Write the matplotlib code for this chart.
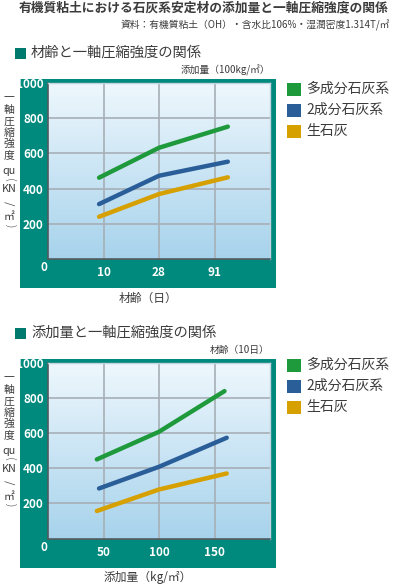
import numpy as np
import matplotlib.pyplot as plt
from matplotlib.patches import Rectangle
from matplotlib.colors import LinearSegmentedColormap

plt.rcParams['font.family'] = ['Noto Sans CJK JP', 'DejaVu Sans']

W, H = 394, 586

# 材齢と一軸圧縮強度の関係 (添加量 100kg/㎡)
age_labels = ['10', '28', '91']
age_ticks = [1, 2, 3]
age_line_x = [0.92, 2.0, 3.24]
age_multi = [462, 632, 752]
age_two = [312, 473, 553]
age_lime = [240, 369, 464]

# 添加量と一軸圧縮強度の関係 (材齢10日)
dose_ticks = [50, 100, 150]
dose_labels = ['50', '100', '150']
dose_multi_x = [44, 100, 159]
dose_multi = [450, 607, 838]
dose_two_x = [46, 100, 161]
dose_two = [285, 408, 573]
dose_lime_x = [44, 100, 161]
dose_lime = [157, 279, 370]

series_names = ['多成分石灰系', '2成分石灰系', '生石灰']
series_colors = ['#1e9a3c', '#2a5e99', '#d6a100']
y_ticks = [200, 400, 600, 800, 1000]

teal = '#00897d'
text_col = '#3c3c3c'
bg = LinearSegmentedColormap.from_list('bg', ['#eef7fd', '#a7d3ec'])

fig = plt.figure(figsize=(W / 100, H / 100), dpi=100)


def box(x0, y0, x1, y1):
    # pixel box (from top left) -> figure fraction rect
    return [x0 / W, 1 - y1 / H, (x1 - x0) / W, (y1 - y0) / H]


def ptxt(x, y, s, **kw):
    fig.text(x / W, 1 - y / H, s, **kw)


def prect(x0, y0, x1, y1, color, z=1):
    fig.add_artist(Rectangle((x0 / W, 1 - y1 / H), (x1 - x0) / W, (y1 - y0) / H,
                             transform=fig.transFigure, color=color, lw=0, zorder=z))


# vertical y label pieces: text, offset from plot top, rotation, size
ylabel_parts = [('一', 15, 0, 7.8), ('軸', 27, 0, 7.8), ('圧', 39, 0, 7.8),
                ('縮', 50, 0, 7.8), ('強', 61, 0, 7.8), ('度', 72, 0, 7.8),
                ('qu', 88, 0, 7.8), ('(', 97, 270, 8.5), ('KN', 106, 0, 7.8),
                ('/', 120, 270, 9.5), ('㎡', 134, 0, 7.8), (')', 143, 270, 8.5)]


def draw_panel(top, xlim, ticks, ticklabels, lines, title, note, xlabel, leg_top):
    # teal frame, behind the plot area
    prect(20, top - 4, 276, top + 205, teal, z=-1)
    ax = fig.add_axes(box(48, top, 270, top + 176))
    ax.imshow(np.linspace(0, 1, 256).reshape(-1, 1), cmap=bg, aspect='auto',
              extent=(xlim[0], xlim[1], 0, 1000), zorder=0)
    for (xs, ys), c in zip(lines, series_colors):
        ax.plot(xs, ys, color=c, lw=3.2, solid_capstyle='round', zorder=3)
    ax.set_xlim(*xlim)
    ax.set_ylim(0, 1000)
    ax.set_xticks(ticks)
    ax.set_xticklabels(ticklabels)
    ax.set_yticks(y_ticks)
    ax.grid(color='#a7afb6', lw=1.2, zorder=1)
    ax.set_axisbelow(True)
    ax.tick_params(length=0, labelcolor='white', labelsize=8.5)
    ax.tick_params(axis='x', pad=5)
    ax.tick_params(axis='y', pad=3)
    for lab in ax.get_xticklabels() + ax.get_yticklabels():
        lab.set_fontweight('bold')
    for s in ['left', 'bottom']:
        ax.spines[s].set_color('#555b60')
        ax.spines[s].set_linewidth(1.2)
    for s in ['top', 'right']:
        ax.spines[s].set_color('#c4d4de')
        ax.spines[s].set_linewidth(1.0)
    ptxt(44, top + 185, '0', color='white', fontsize=8.5, fontweight='bold',
         ha='center', va='center')

    # titles
    prect(15, top - 35, 26, top - 24, '#00796e')
    ptxt(31, top - 30, title, color=text_col, fontsize=10.3, va='center')
    ptxt(270, top - 13, note, color=text_col, fontsize=7, ha='right', va='center')
    ptxt(148, top + 215, xlabel, color=text_col, fontsize=8.5, ha='center', va='center')

    for s, dy, rot, fs in ylabel_parts:
        if rot:
            ptxt(9, top + dy, s, color=text_col, fontsize=fs, ha='center',
                 va='center', rotation=rot, family='DejaVu Sans',
                 fontweight='light')
        else:
            ptxt(9, top + dy, s, color=text_col, fontsize=fs, ha='center',
                 va='center')

    # legend
    for i, (name, c) in enumerate(zip(series_names, series_colors)):
        y = leg_top + 21 * i
        prect(287, y - 6.5, 301, y + 6.5, c)
        ptxt(306, y, name, color=text_col, fontsize=10, va='center')
    return ax


ptxt(204, 8, '有機質粘土における石灰系安定材の添加量と一軸圧縮強度の関係',
     color=text_col, fontsize=9.2, fontweight='bold', ha='center', va='center')
ptxt(390, 25, '資料：有機質粘土（OH）・含水比106%・湿潤密度1.314T/㎡',
     color=text_col, fontsize=7, ha='right', va='center')

draw_panel(83, (0, 4), age_ticks, age_labels,
           [(age_line_x, age_multi), (age_line_x, age_two), (age_line_x, age_lime)],
           '材齢と一軸圧縮強度の関係', '添加量（100kg/㎡）', '材齢（日）', 89)

draw_panel(362.6, (0, 200), dose_ticks, dose_labels,
           [(dose_multi_x, dose_multi), (dose_two_x, dose_two), (dose_lime_x, dose_lime)],
           '添加量と一軸圧縮強度の関係', '材齢（10日）', '添加量（kg/㎡）', 365)

fig.savefig('out.png', dpi=100)
